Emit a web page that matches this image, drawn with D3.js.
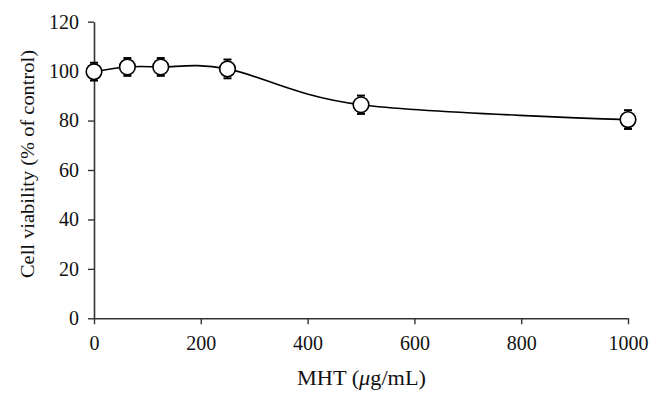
<!DOCTYPE html>
<html><head><meta charset="utf-8">
<script src="https://cdn.jsdelivr.net/npm/d3@7"></script>
<style>body{margin:0;background:#fff}svg{display:block}</style>
</head><body>
<script>
const doses = [0, 62.5, 125, 250, 500, 1000];
const viability = [99.8, 101.7, 101.7, 100.9, 86.4, 80.4];
const errors = [3.6, 3.6, 3.6, 3.8, 3.7, 3.8];
const xTicks = [0, 200, 400, 600, 800, 1000];
const yTicks = [0, 20, 40, 60, 80, 100, 120];

const W = 661, H = 403;
const svg = d3.select("body").append("svg").attr("width", W).attr("height", H);
const x = d3.scaleLinear().domain([0, 1000]).range([94, 628]);
const y = d3.scaleLinear().domain([0, 120]).range([318.3, 21.7]);
const font = "'Liberation Serif', 'DejaVu Serif', serif";
const axisColor = "#333";

const xAxis = svg.append("g").attr("transform", `translate(0,${y(0)})`)
  .call(d3.axisBottom(x).tickValues(xTicks).tickFormat(d3.format("d")).tickSize(6).tickPadding(12).tickSizeOuter(0));
const yAxis = svg.append("g").attr("transform", `translate(${x(0)},0)`)
  .call(d3.axisLeft(y).tickValues(yTicks).tickFormat(d3.format("d")).tickSize(6).tickPadding(9).tickSizeOuter(0));
[xAxis, yAxis].forEach(g => {
  g.select(".domain").attr("stroke", axisColor).attr("stroke-width", 1.6);
  g.selectAll(".tick line").attr("stroke", axisColor).attr("stroke-width", 1.4);
  g.selectAll(".tick text").attr("fill", "#111").style("font-family", font).style("font-size", "20px");
});

// curve
const pts = doses.map((d, i) => [x(d), y(viability[i])]);
svg.append("path").attr("d", d3.line().curve(d3.curveCardinal.tension(0))(pts))
  .attr("fill", "none").attr("stroke", "#000").attr("stroke-width", 1.6);

// error bars
const eb = svg.append("g").attr("stroke", "#000");
doses.forEach((d, i) => {
  const cx = x(d), t = y(viability[i] + errors[i]), b = y(viability[i] - errors[i]);
  eb.append("line").attr("x1", cx).attr("x2", cx).attr("y1", t).attr("y2", b).attr("stroke-width", 1.4);
  eb.append("line").attr("x1", cx - 4).attr("x2", cx + 4).attr("y1", t).attr("y2", t).attr("stroke-width", 2);
  eb.append("line").attr("x1", cx - 4).attr("x2", cx + 4).attr("y1", b).attr("y2", b).attr("stroke-width", 2);
});

// markers
svg.append("g").selectAll("circle").data(doses).join("circle")
  .attr("cx", d => x(d)).attr("cy", (d, i) => y(viability[i])).attr("r", 7.8)
  .attr("fill", "#fff").attr("stroke", "#000").attr("stroke-width", 1.6);

// axis titles
const xt = svg.append("text").attr("x", 297).attr("y", 385)
  .attr("textLength", 129).attr("lengthAdjust", "spacingAndGlyphs")
  .style("font-family", font).style("font-size", "21px").attr("fill", "#111");
xt.append("tspan").text("MHT (");
xt.append("tspan").style("font-style", "italic").text("μ");
xt.append("tspan").text("g/mL)");

svg.append("text").attr("transform", `translate(34,278) rotate(-90)`)
  .attr("textLength", 228).attr("lengthAdjust", "spacingAndGlyphs")
  .style("font-family", font).style("font-size", "19px").attr("fill", "#111")
  .text("Cell viability (% of control)");
</script>
</body></html>
